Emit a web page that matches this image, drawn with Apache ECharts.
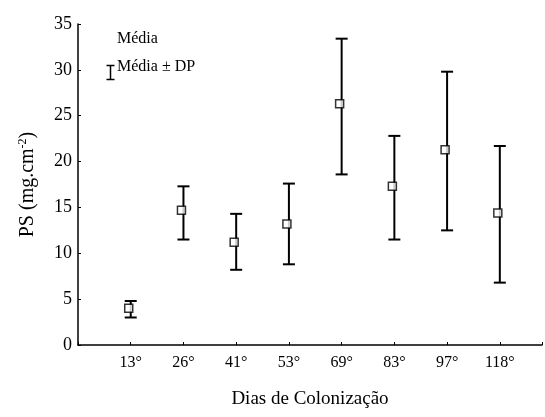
<!DOCTYPE html>
<html><head><meta charset="utf-8">
<script src="https://cdn.jsdelivr.net/npm/echarts@6/dist/echarts.min.js"></script>
<style>html,body{margin:0;padding:0;background:#fff}#c{width:545px;height:417px}</style>
</head><body><div id="c"></div>
<script>
var categories = ['13°','26°','41°','53°','69°','83°','97°','118°'];
var means = [4.0, 14.7, 11.2, 13.2, 26.3, 17.3, 21.3, 14.4];
var upper = [4.8, 17.3, 14.3, 17.6, 33.4, 22.8, 29.8, 21.7];
var lower = [3.0, 11.5, 8.2, 8.8, 18.6, 11.5, 12.5, 6.8];
var yTicks = [0,5,10,15,20,25,30,35];

var F = '"Liberation Serif","DejaVu Serif",serif';
var chart = echarts.init(document.getElementById('c'));
var errData = categories.map(function(c,i){return [i+1, lower[i], upper[i]];});
var meanData = categories.map(function(c,i){return [i+1, means[i]];});
chart.setOption({
  animation:false,
  grid:{left:78,right:0,top:24,bottom:72},
  xAxis:{type:'value',min:0,max:8.8,interval:1,
    name:'Dias de Colonização',nameLocation:'middle',nameGap:45,
    nameTextStyle:{fontFamily:F,fontSize:19,color:'#000'},
    axisLine:{lineStyle:{color:'#000',width:1.5}},
    axisTick:{inside:true,length:3,lineStyle:{color:'#000'}},
    axisLabel:{fontFamily:F,fontSize:16,color:'#000',margin:10,
      formatter:function(v){var i=Math.round(v)-1;return (i>=0&&i<categories.length)?categories[i]:'';}},
    splitLine:{show:false}},
  yAxis:{type:'value',min:0,max:35,interval:5,
    name:'{a|PS (mg.cm}{s|-2}{a|)}',nameLocation:'middle',nameGap:40,nameRotate:90,
    nameTextStyle:{rich:{a:{fontFamily:F,fontSize:20,color:'#000'},s:{fontFamily:F,fontSize:12,color:'#000',verticalAlign:'top',padding:[0,0,9,0]}}},
    axisLine:{show:true,lineStyle:{color:'#000',width:1.5}},
    axisTick:{show:true,inside:true,length:3,lineStyle:{color:'#000'}},
    axisLabel:{fontFamily:F,fontSize:18,color:'#000',margin:6,
      formatter:function(v){return yTicks.indexOf(v)>=0?String(v):'';}},
    splitLine:{show:false}},
  graphic:[
    {type:'text',left:117,top:31,style:{text:'Média',font:'16px '+F,fill:'#000'}},
    {type:'text',left:117,top:59,style:{text:'Média ± DP',font:'16px '+F,fill:'#000'}},
    {type:'group',left:104,top:63,children:[
      {type:'line',shape:{x1:4,y1:0,x2:4,y2:14},style:{stroke:'#000',lineWidth:1.5}},
      {type:'line',shape:{x1:0,y1:0,x2:8,y2:0},style:{stroke:'#000',lineWidth:1.5}},
      {type:'line',shape:{x1:0,y1:14,x2:8,y2:14},style:{stroke:'#000',lineWidth:1.5}}
    ]}
  ],
  series:[
    {type:'custom',data:errData,
      renderItem:function(params,api){
        var x=api.value(0);
        var lo=api.coord([x,api.value(1)]);
        var hi=api.coord([x,api.value(2)]);
        var w=6;
        var st={stroke:'#000',lineWidth:2};
        return {type:'group',children:[
          {type:'line',shape:{x1:lo[0],y1:lo[1],x2:hi[0],y2:hi[1]},style:st},
          {type:'line',shape:{x1:hi[0]-w,y1:hi[1],x2:hi[0]+w,y2:hi[1]},style:st},
          {type:'line',shape:{x1:lo[0]-w,y1:lo[1],x2:lo[0]+w,y2:lo[1]},style:st}
        ]};
      },z:2},
    {type:'scatter',data:meanData,symbol:'rect',symbolSize:8,symbolOffset:[-2,0],
      itemStyle:{color:'#fff',borderColor:'#000',borderWidth:1.5},z:3}
  ]
});
</script></body></html>
